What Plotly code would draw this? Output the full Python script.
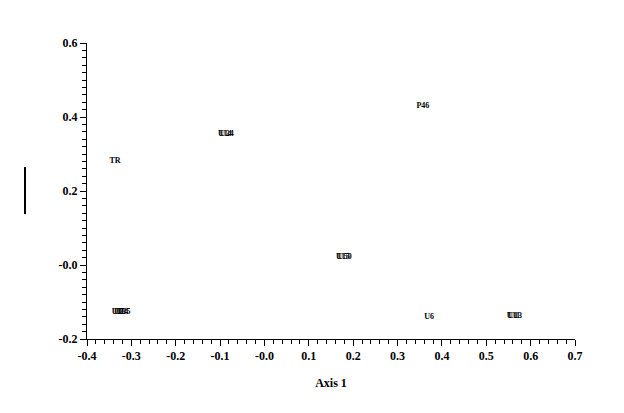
import plotly.graph_objects as go

# point labels and their coordinates (Axis 1, Axis 2)
labels = ["TR", "U14", "U24", "P46", "U15", "U50", "U6", "U11", "U13",
          "U1", "U2", "U3", "U4", "U5"]
axis1 = [-0.337, -0.089, -0.085, 0.357, 0.177, 0.181, 0.371, 0.561, 0.565,
         -0.333, -0.328, -0.323, -0.318, -0.313]
axis2 = [0.281, 0.354, 0.354, 0.430, 0.022, 0.022, -0.141, -0.138, -0.138,
         -0.127, -0.127, -0.127, -0.127, -0.127]

x_ticks = [-0.4, -0.3, -0.2, -0.1, 0.0, 0.1, 0.2, 0.3, 0.4, 0.5, 0.6, 0.7]
x_ticktext = ["-0.4", "-0.3", "-0.2", "-0.1", "-0.0", "0.1", "0.2", "0.3", "0.4", "0.5", "0.6", "0.7"]
y_ticks = [-0.2, 0.0, 0.2, 0.4, 0.6]
y_ticktext = ["-0.2", "-0.0", "0.2", "0.4", "0.6"]

serif = "Liberation Serif"

fig = go.Figure(go.Scatter(
    x=axis1, y=axis2, mode="text", text=labels,
    textposition="middle center",
    textfont=dict(family=serif, size=8, color="#000000", weight="bold"),
    hoverinfo="skip", showlegend=False,
))

common = dict(
    showline=True, linecolor="black", linewidth=1,
    ticks="outside", ticklen=6, tickcolor="black", tickwidth=1,
    showgrid=False, zeroline=False,
    tickfont=dict(family=serif, size=12, color="black", weight="bold"),
    minor=dict(ticks="outside", ticklen=4, dtick=0.02, tickcolor="black", tickwidth=1, showgrid=False),
)

fig.update_xaxes(range=[-0.4, 0.7], tickvals=x_ticks, ticktext=x_ticktext,
                 title=dict(text="Axis 1", font=dict(family=serif, size=12, color="black", weight="bold"), standoff=16),
                 **common)
fig.update_yaxes(range=[-0.2, 0.6], tickvals=y_ticks, ticktext=y_ticktext,
                 **common)

fig.add_shape(type="line", xref="paper", yref="paper",
              x0=-0.127, x1=-0.127, y0=0.422, y1=0.581,
              line=dict(color="black", width=2))

fig.update_layout(
    width=624, height=413,
    margin=dict(l=79, r=57, t=35, b=82),
    paper_bgcolor="white", plot_bgcolor="white",
)

fig.write_html("out.html")
